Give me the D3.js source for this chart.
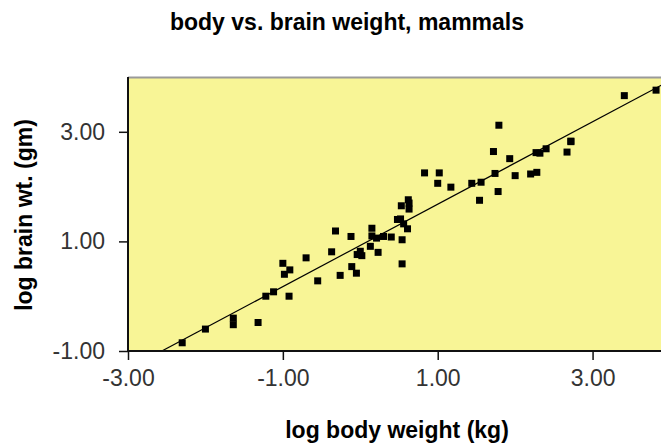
<!DOCTYPE html>
<html lang="en">
    <head>
        <meta charset="utf-8">
        <title>body vs. brain weight, mammals</title>
        <style>
            body{
                margin: 0;
                background-color: white;
            }
            svg{
                display: block;
            }
            text{
                font-family: "Liberation Sans", Arial, sans-serif;
            }
        </style>
        <script src="https://d3js.org/d3.v7.min.js"></script>
    </head>
    <body></body>
    <script>
        // log10 body weight (kg) and log10 brain weight (g), one entry per species
        let species = ["Arctic fox", "Owl monkey", "Mountain beaver", "Cow", "Grey wolf", "Goat", "Roe deer", "Guinea pig",
            "Verbet", "Chinchilla", "Ground squirrel", "Arctic ground squirrel", "African giant pouched rat",
            "Lesser short-tailed shrew", "Star-nosed mole", "Nine-banded armadillo", "Tree hyrax", "N.A. opossum",
            "Asian elephant", "Big brown bat", "Donkey", "Horse", "European hedgehog", "Patas monkey", "Cat", "Galago",
            "Genet", "Giraffe", "Gorilla", "Grey seal", "Rock hyrax-a", "Human", "African elephant", "Water opossum",
            "Rhesus monkey", "Kangaroo", "Yellow-bellied marmot", "Golden hamster", "Mouse", "Little brown bat",
            "Slow loris", "Okapi", "Rabbit", "Sheep", "Jaguar", "Chimpanzee", "Baboon", "Desert hedgehog",
            "Giant armadillo", "Rock hyrax-b", "Raccoon", "Rat", "E. American mole", "Mole rat", "Musk shrew", "Pig",
            "Echidna", "Brazilian tapir", "Tenrec", "Phalanger", "Tree shrew", "Red fox"]
        let logBody = [0.53, -0.32, 0.13, 2.67, 1.56, 1.44, 1.17, 0.02,
            0.62, -0.37, -1.00, -0.04, 0.00,
            -2.30, -1.22, 0.54, 0.30, 0.23,
            3.41, -1.64, 2.27, 2.72, -0.11, 1.00, 0.52, -0.70,
            0.15, 2.72, 2.32, 1.93, -0.12, 1.79, 3.82, 0.54,
            0.83, 1.54, 0.61, -0.92, -1.64, -2.00,
            0.15, 2.40, 0.40, 1.74, 2.00, 1.72, 1.02, -0.26,
            1.78, 0.56, 0.63, -0.55, -1.12, -0.91, -1.32, 2.28,
            0.48, 2.20, -0.05, 0.21, -0.98, 0.63]
        let logBrain = [1.65, 1.19, 0.91, 2.63, 2.08, 2.06, 1.99, 0.74,
            1.76, 0.81, 0.60, 0.76, 0.82,
            -0.85, 0.00, 1.03, 1.09, 0.80,
            3.66, -0.52, 2.62, 2.82, 0.54, 2.06, 1.41, 0.70,
            1.24, 2.83, 2.61, 2.51, 1.09, 3.12, 3.76, 0.59,
            2.25, 1.75, 1.23, 0.00, -0.40, -0.60,
            1.10, 2.69, 1.08, 2.24, 2.20, 2.64, 2.25, 0.38,
            1.91, 1.32, 1.59, 0.28, 0.08, 0.48, -0.48, 2.26,
            1.40, 2.23, 0.42, 1.06, 0.40, 1.70]

        // fitted line: logBrain = intercept + slope * logBody
        let intercept = 0.927
        let slope = 0.752

        let xTicks = [-3, -1, 1, 3]
        let yTicks = [-1, 1, 3]

        let width = 661
        let height = 444
        let plotLeft = 128
        let plotTop = 77
        let plotBottom = 351
        let plotRight = 670

        let svg = d3.select("body")
                    .append("svg")
                    .attr("width", width)
                    .attr("height", height)

        let x = d3.scaleLinear().domain([-3, 4]).range([plotLeft, plotRight])
        let y = d3.scaleLinear().domain([-1, 4]).range([plotBottom, plotTop])

        // plot area
        svg.append("rect")
            .attr("x", plotLeft)
            .attr("y", plotTop)
            .attr("width", plotRight - plotLeft)
            .attr("height", plotBottom - plotTop)
            .attr("fill", "#f8f596")

        svg.append("line")
            .attr("x1", plotLeft).attr("x2", plotRight)
            .attr("y1", plotTop + 0.5).attr("y2", plotTop + 0.5)
            .attr("stroke", "#9a9a9a")
            .attr("stroke-width", 2)

        svg.append("clipPath")
            .attr("id", "plot")
            .append("rect")
            .attr("x", plotLeft).attr("y", plotTop)
            .attr("width", plotRight - plotLeft).attr("height", plotBottom - plotTop)

        let plot = svg.append("g").attr("clip-path", "url(#plot)")

        let x0 = (-1 - intercept) / slope
        plot.append("line")
            .attr("x1", x(x0)).attr("y1", y(intercept + slope * x0))
            .attr("x2", x(4)).attr("y2", y(intercept + slope * 4))
            .attr("stroke", "black")
            .attr("stroke-width", 1.2)

        let pts = logBody.map((d, i) => ({name: species[i], bx: d, by: logBrain[i]}))
        let s = 7
        plot.selectAll("rect.pt")
            .data(pts)
            .enter()
            .append("rect")
            .attr("class", "pt")
            .attr("x", d => x(d.bx) - s / 2)
            .attr("y", d => y(d.by) - s / 2)
            .attr("width", s)
            .attr("height", s)
            .attr("fill", "black")

        // axes (plain hyphen for negatives, like the original)
        let fmt = d => d.toFixed(2)
        let xAxis = d3.axisBottom(x)
                      .tickValues(xTicks)
                      .tickSize(9)
                      .tickPadding(10)
                      .tickFormat(fmt)
        let yAxis = d3.axisLeft(y)
                      .tickValues(yTicks)
                      .tickSize(9)
                      .tickPadding(14)
                      .tickFormat(fmt)

        let gx = svg.append("g")
                    .attr("transform", `translate(0, ${plotBottom})`)
                    .call(xAxis)
        let gy = svg.append("g")
                    .attr("transform", `translate(${plotLeft}, 0)`)
                    .call(yAxis)

        for (let g of [gx, gy]) {
            g.select(".domain").remove()
            g.selectAll("line").attr("stroke", "#111").attr("stroke-width", 1.5)
            g.selectAll("text")
             .attr("font-size", 23)
             .attr("fill", "#333")
             .style("font-family", "'Liberation Sans', Arial, sans-serif")
        }

        svg.append("line")
            .attr("x1", plotLeft).attr("x2", plotLeft)
            .attr("y1", plotTop).attr("y2", plotBottom + 1)
            .attr("stroke", "#111").attr("stroke-width", 2)
        svg.append("line")
            .attr("x1", plotLeft - 1).attr("x2", plotRight)
            .attr("y1", plotBottom).attr("y2", plotBottom)
            .attr("stroke", "#111").attr("stroke-width", 2)

        // titles
        svg.append("text")
            .attr("x", 347)
            .attr("y", 30)
            .attr("text-anchor", "middle")
            .attr("font-size", 23)
            .attr("font-weight", "bold")
            .text("body vs. brain weight, mammals")

        svg.append("text")
            .attr("x", 397)
            .attr("y", 438)
            .attr("text-anchor", "middle")
            .attr("font-size", 23)
            .attr("font-weight", "bold")
            .text("log body weight (kg)")

        svg.append("text")
            .attr("transform", "translate(32, 215) rotate(-90)")
            .attr("text-anchor", "middle")
            .attr("font-size", 23)
            .attr("font-weight", "bold")
            .text("log brain wt. (gm)")
    </script>
</html>
